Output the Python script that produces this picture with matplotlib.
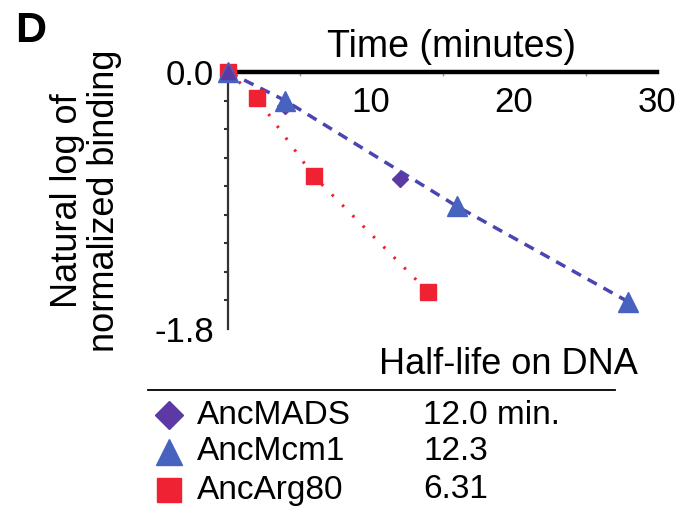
import numpy as np
from matplotlib import pyplot as plt
from matplotlib.lines import Line2D
from matplotlib.ticker import MultipleLocator, FixedLocator

plt.rcParams["font.family"] = ["Liberation Sans", "DejaVu Sans"]

# data
mads_t = [0, 4, 12]
mads_y = [0.0, -0.24, -0.75]
mcm1_t = [0, 4, 16, 28]
mcm1_y = [0.0, -0.20, -0.94, -1.61]
arg80_t = [0, 2, 6, 14]
arg80_y = [0.0, -0.18, -0.73, -1.54]

names = ["AncMADS", "AncMcm1", "AncArg80"]
half_lives = ["12.0 min.", "12.3", "6.31"]

c_red = "#ee2233"
c_blue = "#4763bf"
c_purple = "#5d3aa3"
c_line = "#4a45b0"

W, H = 691, 515
fig = plt.figure(figsize=(W / 100, H / 100), dpi=100)


def fx(px):
    return px / W


def fy(py):
    return 1 - py / H


ax = fig.add_axes([fx(228), fy(329), fx(657) - fx(228), fy(72) - fy(329)])

# fitted lines
ax.plot(mcm1_t, mcm1_y, color=c_line, lw=2.5, dashes=(3, 2.2), clip_on=False, zorder=2)
ax.plot(arg80_t, arg80_y, color=c_red, lw=2.2, dashes=(0.8, 4), clip_on=False, zorder=2)

# markers
ax.plot(mads_t, mads_y, ls="none", marker="D", ms=8, color=c_purple, clip_on=False, zorder=3)
ax.plot(arg80_t, arg80_y, ls="none", marker="s", ms=12, color=c_red, clip_on=False, zorder=4)
ax.plot(mcm1_t, mcm1_y, ls="none", marker="^", ms=14, color=c_blue, clip_on=False, zorder=5)
ax.plot(mads_t[:1], mads_y[:1], ls="none", marker="^", ms=10, color=c_purple, clip_on=False, zorder=6)

ax.set_xlim(0, 30)
ax.set_ylim(-1.8, 0)

for s in ["bottom", "right"]:
    ax.spines[s].set_visible(False)
ax.spines["top"].set_linewidth(3.2)
ax.spines["top"].set_color("black")
ax.spines["left"].set_linewidth(1.6)
ax.spines["left"].set_color("#333333")

ax.xaxis.set_ticks_position("top")
ax.xaxis.set_major_locator(FixedLocator([10, 20, 30]))
ax.xaxis.set_minor_locator(FixedLocator([5, 15, 25]))
ax.tick_params(axis="x", which="major", length=0, labeltop=True, labelbottom=False,
               labelsize=25, pad=-34)
ax.tick_params(axis="x", which="minor", length=3, width=1, color="#999999", direction="in")

ax.yaxis.set_major_locator(FixedLocator([-1.8, 0.0]))
ax.yaxis.set_minor_locator(MultipleLocator(0.2))
ax.set_yticklabels(["-1.8", "0.0"])
ax.tick_params(axis="y", which="major", length=0, labelsize=25, pad=10)
ax.tick_params(axis="y", which="minor", length=3, width=1.5, color="#333333", direction="out")

ax.set_xlabel("Time (minutes)", fontsize=27)
ax.xaxis.set_label_position("top")
ax.xaxis.label.set_va("center")
ax.xaxis.set_label_coords(0.52, 1 + (72 - 47) / 257)

ax.set_ylabel("Natural log of\nnormalized binding", fontsize=26, linespacing=1.1)
ax.yaxis.label.set_va("center")
ax.yaxis.set_label_coords((86 - 228) / 429, 0.5)

fig.text(fx(15), fy(31), "D", fontsize=31, fontweight="bold", va="center", ha="left")

# legend block
fig.text(fx(638), fy(365), "Half-life on DNA", fontsize=26, ha="right", va="center")
fig.add_artist(Line2D([fx(148), fx(615)], [fy(390), fy(390)], color="black", lw=1.3))
row_y = [415, 452, 490]
row_style = [("D", c_purple, 14), ("^", c_blue, 19), ("s", c_red, 17)]
for name, hl, yy, (mk, col, ms) in zip(names, half_lives, row_y, row_style):
    fig.add_artist(Line2D([fx(169)], [fy(yy)], marker=mk, color=col, ms=ms, ls="none"))
    fig.text(fx(197), fy(yy), name, fontsize=24, ha="left", va="center")
    fig.text(fx(423), fy(yy), hl, fontsize=24, ha="left", va="center")

fig.savefig("out.png", dpi=100)
